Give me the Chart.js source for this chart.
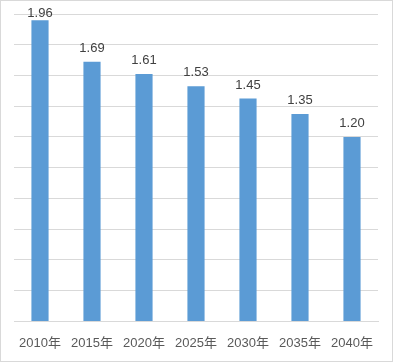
<!DOCTYPE html>
<html>
<head>
<meta charset="utf-8">
<script src="https://cdn.jsdelivr.net/npm/chart.js@4/dist/chart.umd.min.js"></script>
<style>
  html, body { margin: 0; padding: 0; background: #fff; }
  #wrap { width: 393px; height: 362px; position: relative; }
</style>
</head>
<body>
<div id="wrap"><canvas id="chart" width="393" height="362"></canvas></div>
<script>
const years = ['2010年', '2015年', '2020年', '2025年', '2030年', '2035年', '2040年'];
const values = [1.96, 1.69, 1.61, 1.53, 1.45, 1.35, 1.20];

const FONT = '"Liberation Sans", "Noto Sans CJK SC", sans-serif';

// value labels above each bar, kept inside the top of the canvas
const valueLabels = {
    id: 'valueLabels',
    afterDatasetsDraw(chart) {
        const ctx = chart.ctx;
        const meta = chart.getDatasetMeta(0);
        ctx.save();
        ctx.font = '13px ' + FONT;
        ctx.fillStyle = '#404040';
        ctx.textAlign = 'center';
        ctx.textBaseline = 'alphabetic';
        meta.data.forEach((bar, i) => {
            const y = Math.max(bar.y - 10, 17);
            ctx.fillText(values[i].toFixed(2), bar.x, y);
        });
        ctx.restore();
    }
};

// thin frame around the whole chart
const frame = {
    id: 'frame',
    afterDraw(chart) {
        const ctx = chart.ctx;
        ctx.save();
        ctx.strokeStyle = '#d9d9d9';
        ctx.lineWidth = 1;
        ctx.strokeRect(0.5, 0.5, chart.width - 1, chart.height - 1);
        ctx.restore();
    }
};

new Chart(document.getElementById('chart'), {
    type: 'bar',
    data: {
        labels: years,
        datasets: [{
            data: values,
            backgroundColor: '#5b9bd5',
            barPercentage: 0.33,
            categoryPercentage: 1
        }]
    },
    options: {
        responsive: false,
        animation: false,
        layout: { padding: { left: 14, right: 15, top: 14, bottom: 5 } },
        plugins: { legend: { display: false }, tooltip: { enabled: false } },
        scales: {
            x: {
                grid: { display: false },
                border: { color: '#d9d9d9' },
                ticks: { color: '#595959', font: { family: FONT, size: 13 }, padding: 6, maxRotation: 0 }
            },
            y: {
                min: 0,
                max: 2,
                ticks: { display: false, stepSize: 0.2 },
                grid: { color: '#d9d9d9', drawTicks: false },
                border: { display: false }
            }
        }
    },
    plugins: [valueLabels, frame]
});
</script>
</body>
</html>
